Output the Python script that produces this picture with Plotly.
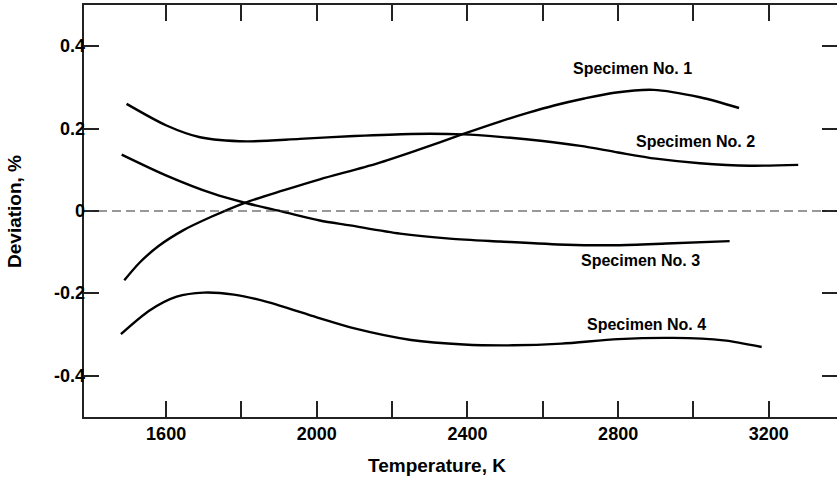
import plotly.graph_objects as go

# ---- data ----
s1_t = [1489, 1530, 1580, 1645, 1720, 1809, 1911, 2008, 2159, 2265, 2389, 2486, 2560, 2630, 2710, 2790, 2893, 3017, 3121]
s1_d = [-0.168, -0.125, -0.085, -0.047, -0.014, 0.020, 0.050, 0.077, 0.115, 0.147, 0.187, 0.217, 0.238, 0.256, 0.273, 0.287, 0.294, 0.276, 0.250]

s2_t = [1495, 1601, 1690, 1814, 1955, 2100, 2250, 2389, 2486, 2600, 2700, 2800, 2900, 3017, 3150, 3278]
s2_d = [0.260, 0.2075, 0.179, 0.169, 0.175, 0.182, 0.187, 0.186, 0.180, 0.170, 0.158, 0.142, 0.127, 0.116, 0.110, 0.112]

s3_t = [1482, 1601, 1725, 1809, 1911, 2008, 2088, 2221, 2353, 2486, 2663, 2796, 2928, 3096]
s3_d = [0.137, 0.086, 0.042, 0.020, -0.002, -0.023, -0.035, -0.055, -0.067, -0.074, -0.082, -0.083, -0.079, -0.073]

s4_t = [1480, 1557, 1628, 1700, 1780, 1870, 2000, 2100, 2250, 2390, 2520, 2650, 2800, 2946, 3080, 3181]
s4_d = [-0.299, -0.241, -0.208, -0.198, -0.203, -0.221, -0.258, -0.285, -0.313, -0.324, -0.326, -0.322, -0.311, -0.308, -0.314, -0.330]

labels = ["Specimen No. 1", "Specimen No. 2", "Specimen No. 3", "Specimen No. 4"]
label_t = [2838, 3006, 2860, 2876]
label_d = [0.345, 0.169, -0.120, -0.276]

x_tickvals = [1600, 1800, 2000, 2200, 2400, 2600, 2800, 3000, 3200]
x_ticktext = ["1600", "", "2000", "", "2400", "", "2800", "", "3200"]
y_tickvals = [0.4, 0.2, 0.0, -0.2, -0.4]
y_ticktext = ["0.4", "0.2", "0", "-0.2", "-0.4"]

FONT = "Liberation Sans, Arial, Helvetica, sans-serif"

fig = go.Figure()
for t, d in [(s1_t, s1_d), (s2_t, s2_d), (s3_t, s3_d), (s4_t, s4_d)]:
    fig.add_trace(go.Scatter(x=t, y=d, mode="lines",
                             line=dict(color="black", width=2.4, shape="spline", smoothing=0.8),
                             showlegend=False, hoverinfo="skip"))

# invisible trace to activate the right-hand tick axis
fig.add_trace(go.Scatter(x=[s1_t[0]], y=[s1_d[0]], yaxis="y2", mode="markers",
                         marker=dict(opacity=0), showlegend=False, hoverinfo="skip"))

# dashed zero line
fig.add_shape(type="line", xref="paper", x0=0, x1=1, yref="y", y0=0, y1=0,
              line=dict(color="#333333", width=1.2, dash="9px,5px"))

for txt, t, d in zip(labels, label_t, label_d):
    fig.add_annotation(x=t, y=d, text=txt, showarrow=False,
                       font=dict(family=FONT, size=16, color="black", weight="bold"),
                       xanchor="center", yanchor="middle")

# y tick labels (placed close to the axis as in the reference)
for v, txt in zip(y_tickvals, y_ticktext):
    fig.add_annotation(xref="paper", x=0, yref="y", y=v, text=txt, showarrow=False,
                       xanchor="right", yanchor="middle", xshift=2, borderpad=0,
                       font=dict(family=FONT, size=18, color="black", weight="bold"))

# axis titles
fig.add_annotation(xref="paper", yref="paper", x=0.469, y=-0.118, text="Temperature, K",
                   showarrow=False, font=dict(family=FONT, size=19, color="black", weight="bold"),
                   xanchor="center", yanchor="middle")
fig.add_annotation(xref="paper", yref="paper", x=-0.093, y=0.50, text="Deviation, %",
                   showarrow=False, textangle=-90,
                   font=dict(family=FONT, size=19, color="black", weight="bold"),
                   xanchor="center", yanchor="middle")

fig.update_layout(
    width=837, height=481,
    margin=dict(l=84, r=0, t=5, b=64),
    plot_bgcolor="white", paper_bgcolor="white",
    xaxis=dict(range=[1382, 3381], tickmode="array", tickvals=x_tickvals, ticktext=x_ticktext,
               ticks="inside", ticklen=16, tickwidth=1.5, tickcolor="#222",
               showline=True, linecolor="#222", linewidth=1.5, mirror="ticks",
               showgrid=False, zeroline=False,
               tickfont=dict(family=FONT, size=18, color="black", weight="bold")),
    yaxis=dict(range=[-0.5, 0.5], tickmode="array", tickvals=y_tickvals, showticklabels=False,
               ticks="inside", ticklen=15, tickwidth=1.5, tickcolor="#222",
               showline=True, linecolor="#222", linewidth=1.5, mirror=False,
               showgrid=False, zeroline=False),
    yaxis2=dict(range=[-0.5, 0.5], overlaying="y", side="right", tickmode="array",
                tickvals=y_tickvals, showticklabels=False,
                ticks="inside", ticklen=15, tickwidth=1.5, tickcolor="#222",
                showline=False, showgrid=False, zeroline=False),
)

fig.write_html("out.html")
